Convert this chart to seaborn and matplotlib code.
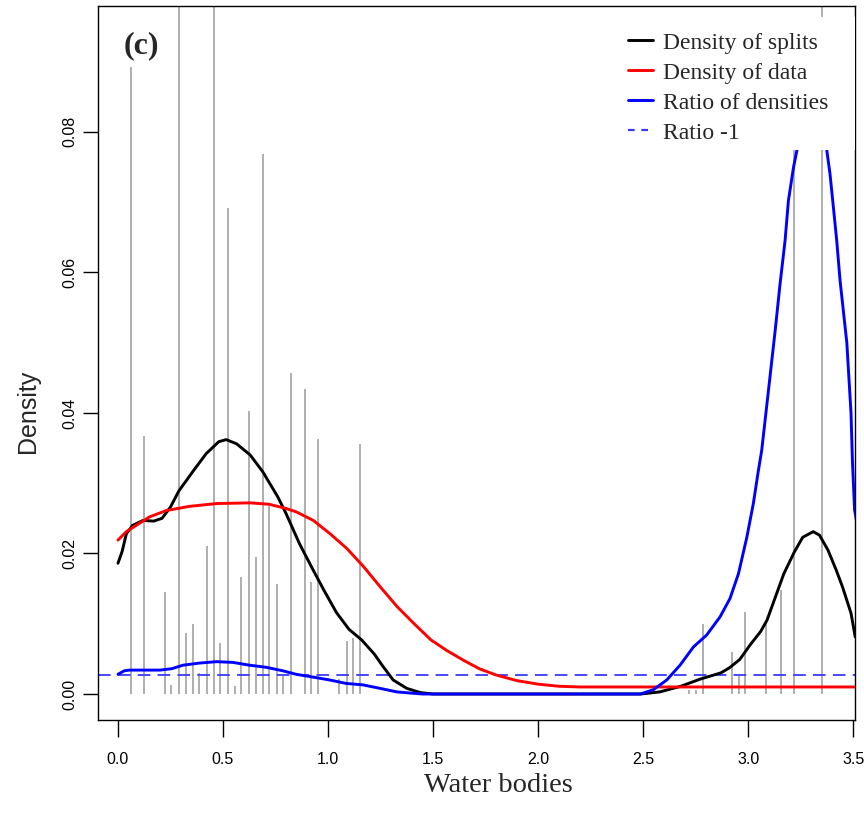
import numpy as np
import pandas as pd
import matplotlib
matplotlib.use("Agg")
import matplotlib.pyplot as plt
from matplotlib.lines import Line2D
from matplotlib.patches import Rectangle
import seaborn as sns

# ---------------- data ----------------
split_x = [0.062, 0.124, 0.224, 0.254, 0.290, 0.324, 0.355, 0.388, 0.424, 0.457,
           0.487, 0.525, 0.555, 0.587, 0.624, 0.657, 0.689, 0.719, 0.757, 0.788,
           0.822, 0.890, 0.920, 0.952, 1.052, 1.090, 1.120, 1.152,
           2.720, 2.752, 2.784, 2.924, 2.956, 2.987, 3.086, 3.159, 3.219, 3.351]
split_h = [0.0892, 0.0367, 0.0145, 0.0013, 0.115, 0.0087, 0.0099, 0.0030, 0.0210, 0.120,
           0.0073, 0.0692, 0.0012, 0.0166, 0.0403, 0.0195, 0.0768, 0.0268, 0.0157, 0.0025,
           0.0457, 0.0434, 0.0159, 0.0363, 0.0021, 0.0075, 0.0080, 0.0356,
           0.0005, 0.0006, 0.0100, 0.0060, 0.0025, 0.0117, 0.0100, 0.0148, 0.090, 0.110]

splits_x = [0.0, 0.02, 0.04, 0.07, 0.12, 0.17, 0.21, 0.25, 0.29, 0.36, 0.42, 0.48, 0.515,
            0.565, 0.63, 0.69, 0.76, 0.80, 0.864, 0.93, 0.98, 1.04, 1.10, 1.16, 1.22, 1.26,
            1.31, 1.375, 1.44, 1.50, 2.0, 2.49, 2.58, 2.68, 2.77, 2.87, 2.91, 2.96, 3.01,
            3.06, 3.09, 3.13, 3.17, 3.22, 3.26, 3.31, 3.34, 3.38, 3.42, 3.45, 3.49, 3.51]
splits_y = [0.0186, 0.0203, 0.0228, 0.0240, 0.0247, 0.0246, 0.0250, 0.0266, 0.0289, 0.0318,
            0.0342, 0.0359, 0.0362, 0.0356, 0.0340, 0.0316, 0.0281, 0.0257, 0.0214, 0.0176,
            0.0148, 0.0116, 0.0092, 0.0077, 0.0057, 0.0040, 0.0020, 0.0008, 0.0002, 0.0,
            0.0, 0.0, 0.0003, 0.0011, 0.0021, 0.0030, 0.0037, 0.0049, 0.0070, 0.0089,
            0.0105, 0.0138, 0.0171, 0.0202, 0.0223, 0.0231, 0.0226, 0.0205, 0.0176,
            0.0152, 0.0115, 0.0081]

data_x = [0.0, 0.04, 0.087, 0.15, 0.23, 0.34, 0.47, 0.63, 0.72, 0.80, 0.85, 0.93, 1.01,
          1.09, 1.17, 1.25, 1.33, 1.41, 1.49, 1.565, 1.645, 1.72, 1.80, 1.90, 2.00, 2.10,
          2.20, 2.5, 3.0, 3.51]
data_y = [0.0219, 0.0231, 0.0240, 0.0252, 0.0261, 0.0267, 0.0271, 0.0272, 0.0270, 0.0264,
          0.0259, 0.0247, 0.0228, 0.0207, 0.0181, 0.0152, 0.0124, 0.0100, 0.0077, 0.0062,
          0.0048, 0.0036, 0.0027, 0.0019, 0.0014, 0.0011, 0.0010, 0.0010, 0.0010, 0.0010]

ratio_x = [0.0, 0.03, 0.055, 0.20, 0.256, 0.31, 0.388, 0.468, 0.547, 0.626, 0.706, 0.785,
           0.849, 0.93, 1.007, 1.087, 1.166, 1.248, 1.327, 1.406, 1.45, 2.0, 2.486, 2.549,
           2.613, 2.676, 2.740, 2.803, 2.867, 2.914, 2.954, 2.994, 3.025, 3.049, 3.065,
           3.10, 3.13, 3.152, 3.176, 3.192, 3.216, 3.232, 3.27, 3.31, 3.35, 3.375, 3.390,
           3.406, 3.422, 3.438, 3.47, 3.49, 3.497, 3.507, 3.52]
ratio_y = [0.0028, 0.0033, 0.0034, 0.0034, 0.0036, 0.0041, 0.0044, 0.0046, 0.0045, 0.0041,
           0.0038, 0.0033, 0.0028, 0.0024, 0.0020, 0.0015, 0.0013, 0.0008, 0.0003, 0.0001,
           0.0, 0.0, 0.0, 0.0006, 0.0020, 0.0041, 0.0067, 0.0084, 0.0110, 0.0136, 0.0171,
           0.0223, 0.0271, 0.0318, 0.0347, 0.0440, 0.0520, 0.0583, 0.0645, 0.0702, 0.0749,
           0.0773, 0.088, 0.095, 0.090, 0.0773, 0.0740, 0.0693, 0.0645, 0.0588, 0.0500,
           0.0400, 0.0330, 0.0262, 0.0240]

ratio_one = 0.0027

legend_labels = ["Density of splits", "Density of data", "Ratio of densities", "Ratio -1"]
x_ticks = [0.0, 0.5, 1.0, 1.5, 2.0, 2.5, 3.0, 3.5]
y_ticks = [0.00, 0.02, 0.04, 0.06, 0.08]

# ---------------- figure ----------------
sns.set_style("ticks")
plt.rcParams["font.family"] = ["Liberation Sans", "DejaVu Sans"]

W, H = 864, 814
fig = plt.figure(figsize=(W / 100, H / 100), dpi=100)
L, R, T, B = 98, 855, 6, 720
ax = fig.add_axes([L / W, 1 - B / H, (R - L) / W, (B - T) / H])

ax.vlines(split_x, 0, split_h, colors="#a8a8a8", linewidth=1.3, zorder=1)

df_s = pd.DataFrame({"x": splits_x, "y": splits_y})
df_d = pd.DataFrame({"x": data_x, "y": data_y})
df_r = pd.DataFrame({"x": ratio_x, "y": ratio_y})
sns.lineplot(data=df_s, x="x", y="y", color="black", linewidth=2.1, sort=False,
             estimator=None, ax=ax, zorder=3)
sns.lineplot(data=df_d, x="x", y="y", color="#ff0000", linewidth=2.1, sort=False,
             estimator=None, ax=ax, zorder=3)
sns.lineplot(data=df_r, x="x", y="y", color="#0000ff", linewidth=2.1, sort=False,
             estimator=None, ax=ax, zorder=3)
ax.axhline(ratio_one, color="#3a3aff", linewidth=1.3, linestyle=(0, (7, 4)), zorder=2)

ax.set_xlim(-0.095, 3.509)
ax.set_ylim(-0.0037, 0.0979)
ax.set_xlabel("")
ax.set_ylabel("")

ax.set_xticks(x_ticks)
ax.set_xticklabels([f"{v:.1f}" for v in x_ticks], fontsize=11.5)
ax.set_yticks(y_ticks)
ax.set_yticklabels([f"{v:.2f}" for v in y_ticks], fontsize=11.5, rotation=90, va="center")
ax.tick_params(axis="x", length=12, width=1, pad=11, colors="black")
ax.tick_params(axis="y", length=11, width=1, pad=4, colors="black")
for s in ax.spines.values():
    s.set_visible(True)
    s.set_linewidth(1.0)
    s.set_color("black")

# white legend background covering the top-right region
ax.add_patch(Rectangle(((615 - L) / (R - L), (B - 150) / (B - T)),
                       1.0, (150 - 17) / (B - T), transform=ax.transAxes,
                       facecolor="white", edgecolor="none", zorder=4, clip_on=True))

handles = [Line2D([], [], color="black", lw=2.1),
           Line2D([], [], color="#ff0000", lw=2.1),
           Line2D([], [], color="#0000ff", lw=2.1),
           Line2D([], [], color="#3a3aff", lw=1.6, linestyle=(0, (3, 3)))]
leg = ax.legend(handles, legend_labels, loc="upper left",
                bbox_to_anchor=(628 / W, 1 - 32 / H), bbox_transform=fig.transFigure,
                frameon=False, borderpad=0, borderaxespad=0, handlelength=1.05,
                handletextpad=0.42, labelspacing=0.36,
                prop={"family": "Liberation Serif", "size": 17})
leg.set_zorder(5)

fig.text(141 / W, 1 - 46 / H, "(c)", ha="center", va="center",
         family="Liberation Serif", fontweight="bold", fontsize=23)
fig.text(498 / W, 1 - 785 / H, "Water bodies", ha="center", va="center",
         family="Liberation Serif", fontsize=20.5)
fig.text(28 / W, 1 - 411 / H, "Density", ha="center", va="center", rotation=90,
         family="Liberation Sans", fontsize=18)

fig.savefig("out.png", dpi=100)
